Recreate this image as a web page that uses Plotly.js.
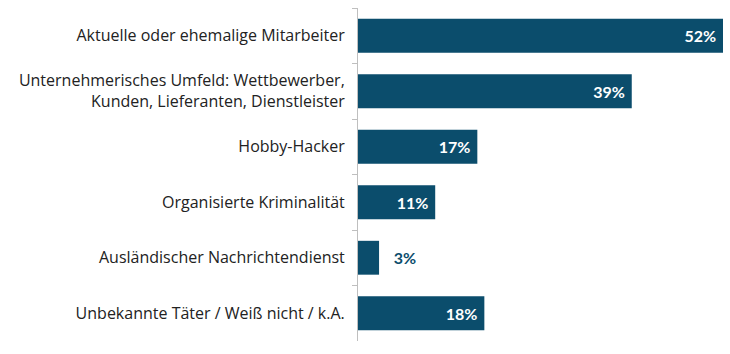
<!DOCTYPE html>
<html>
<head>
<meta charset="utf-8">
<script src="https://cdn.plot.ly/plotly-3.0.1.min.js"></script>
<style>html,body{margin:0;padding:0;background:#fff;}#chart{width:730px;height:354px;}</style>
</head>
<body>
<div id="chart"></div>
<script>
const categories = [
  "Aktuelle oder ehemalige Mitarbeiter",
  "Unternehmerisches Umfeld: Wettbewerber,<br>Kunden, Lieferanten, Dienstleister",
  "Hobby-Hacker",
  "Organisierte Kriminalität",
  "Ausländischer Nachrichtendienst",
  "Unbekannte Täter / Weiß nicht / k.A."
];
const values = [52, 39, 17, 11, 3, 18];
const textPositions = ["inside", "inside", "inside", "inside", "outside", "inside"];

const barColor = "#0b4d6c";

const trace = {
  type: "bar",
  orientation: "h",
  y: categories,
  x: values,
  marker: { color: barColor },
  text: values.map((v, i) => textPositions[i] === "outside" ? "\u00a0\u00a0\u00a0" + v + "%" : v + "%\u00a0"),
  textposition: textPositions,
  insidetextanchor: "end",
  textangle: 0,
  cliponaxis: false,
  insidetextfont: { family: "Lato", size: 16, color: "#ffffff", weight: "bold" },
  outsidetextfont: { family: "Lato", size: 16, color: barColor, weight: "bold" },
  hoverinfo: "skip"
};

const layout = {
  width: 730,
  height: 354,
  margin: { l: 358, r: 7, t: 8, b: 13 },
  paper_bgcolor: "#ffffff",
  plot_bgcolor: "#ffffff",
  showlegend: false,
  bargap: 0.39,
  font: { family: "Open Sans", size: 16, color: "#222222" },
  xaxis: {
    range: [0, 52],
    visible: false,
    fixedrange: true
  },
  yaxis: {
    type: "category",
    autorange: "reversed",
    showline: true,
    linecolor: "#bfbfbf",
    linewidth: 1,
    ticks: "outside",
    tickson: "boundaries",
    ticklen: 5,
    tickcolor: "#bfbfbf",
    ticklabelstandoff: 9,
    showgrid: false,
    zeroline: false,
    tickfont: { family: "Open Sans", size: 16, color: "#222222" }
  }
};

Plotly.newPlot("chart", [trace], layout, { displayModeBar: false, staticPlot: true });
</script>
</body>
</html>
